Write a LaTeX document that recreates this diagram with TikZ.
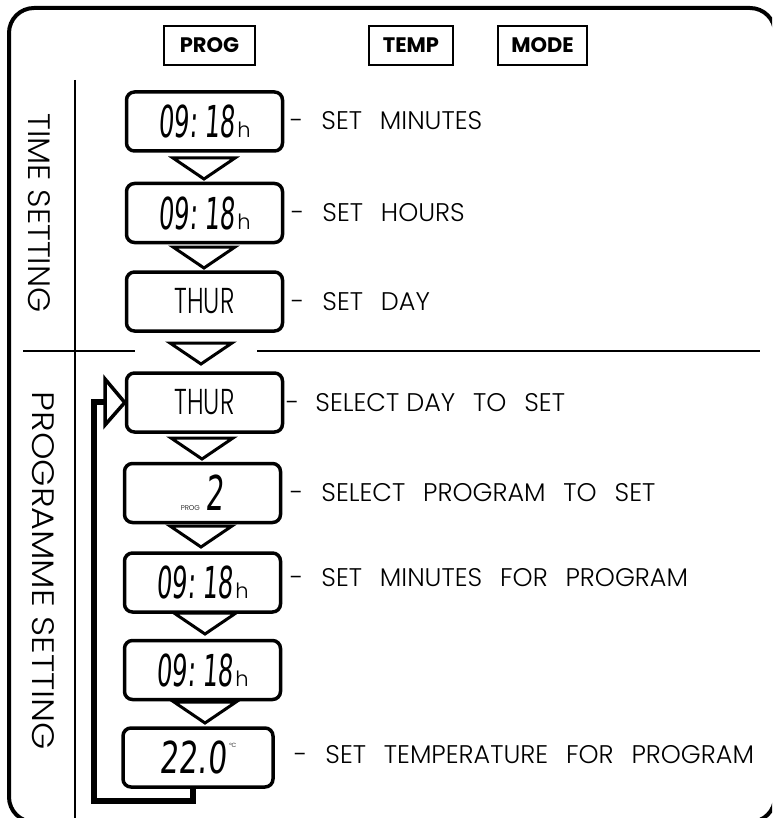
\documentclass[tikz,border=0pt]{standalone}
\usepackage{graphicx}
\usepackage{fontspec}
\setmainfont{Poppins}
\IfFontExistsTF{Poppins Light}{\newfontfamily\lightfont{Poppins Light}}{\newfontfamily\lightfont{Poppins}}
\newfontfamily\lcdfont{DejaVu Sans}[FakeSlant=0.12]
\newcommand\gap{\hspace{0.7em}}
\newcommand\lcdtime{{\lcdfont\fontsize{44}{44}\selectfont\scalebox{0.55}[1]{09:\hspace{0.3em}18}}\hspace{2pt}{\lightfont\fontsize{21}{21}\selectfont h}}
\newcommand\lcdday{{\lightfont\fontsize{36}{36}\selectfont\scalebox{0.68}[1]{THUR}}}
\newcommand\dtri[2]{\draw[tri] ({#1-31},#2) -- ({#1+31},#2) -- (#1,{#2+21}) -- cycle;}
\begin{document}
\begin{tikzpicture}[x=1pt,y=-1pt,
  btn/.style={draw,line width=2,minimum height=39,inner sep=0pt,font=\bfseries\fontsize{21}{21}\selectfont},
  lcdbox/.style={draw,line width=3.5,rounded corners=8,minimum width=156,minimum height=59,inner sep=0pt},
  tri/.style={draw,line width=3,fill=white,line join=miter},
  lbl/.style={anchor=west,inner sep=0pt,font=\lightfont\fontsize{25.5}{25.5}\selectfont},
  side/.style={rotate=-90,inner sep=0pt,font=\lightfont\fontsize{31}{31}\selectfont},
  divider/.style={line width=2.2},
  loopl/.style={line width=6}]
\useasboundingbox (0,0) rectangle (772,818);
\begin{scope}
\clip (0,0) rectangle (772,818);
\draw[line width=4,rounded corners=25] (9,8) rectangle (775,822);
\end{scope}
% buttons
\node[btn,minimum width=91] (prog) at (209.5,45.5) {PROG};
\node[btn,minimum width=84] (temp) at (411,45.5) {TEMP};
\node[btn,minimum width=89] (mode) at (542.5,45.5) {MODE};
% dividers
\coordinate (vt) at (75,80);
\coordinate (vb) at (75,818);
\draw[divider] (vt) -- (vb);
\coordinate (h1a) at (23,351);
\coordinate (h1b) at (135,351);
\coordinate (h2a) at (257,351);
\coordinate (h2b) at (760,351);
\draw[divider] (h1a) -- (h1b);
\draw[divider] (h2a) -- (h2b);
% side titles
\node[side] (ts) at (39,213) {\scalebox{1.04}[1]{TIME SETTING}};
\node[side] (ps) at (43,571) {\scalebox{1.13}[1]{PROGRAMME SETTING}};
% display boxes
\node[lcdbox] (b1) at (204.5,121.5) {\lcdtime};
\node[lcdbox] (b2) at (204.5,213) {\lcdtime};
\node[lcdbox] (b3) at (204.5,301.5) {\lcdday};
\node[lcdbox] (b4) at (204.5,402.5) {\lcdday};
\node[lcdbox] (b5) at (202.5,493) {{\lightfont\fontsize{7}{7}\selectfont PROG}\hspace{6pt}{\lcdfont\fontsize{48}{48}\selectfont\scalebox{0.6}[1]{2}}};
\node[lcdbox] (b6) at (202.5,582.5) {\lcdtime};
\node[lcdbox] (b7) at (202.5,670) {\lcdtime};
\node[lcdbox,minimum width=150] (b8) at (198,757.5) {{\lcdfont\fontsize{44}{44}\selectfont\scalebox{0.68}[1]{22.0}}\hspace{3pt}\raisebox{26pt}{\lightfont\fontsize{6}{6}\selectfont °C}};
% arrows between boxes
\dtri{204}{158}
\dtri{204}{247}
\dtri{201}{343}
\dtri{202}{438}
\dtri{201}{526}
\dtri{205}{613}
\dtri{205}{702}
% loop back
\coordinate (lb) at (94,801);
\coordinate (lt) at (94,402);
\coordinate (la) at (105,402);
\draw[loopl] ([xshift=-5pt]b8.south) |- (lb) -- (lt) -- (la);
\draw[line width=3.5,fill=white,line join=miter] (105,379) -- (b4.west) -- (105,425) -- cycle;
% labels
\node[lbl] (l1) at (290,121) {-\hspace{18pt}SET\gap MINUTES};
\node[lbl] (l2) at (291,213) {-\hspace{18pt}SET\gap HOURS};
\node[lbl] (l3) at (291,302) {-\hspace{18pt}SET\gap DAY};
\node[lbl] (l4) at (286,403) {-\hspace{16pt}SELECT DAY\gap TO\gap SET};
\node[lbl] (l5) at (290,493) {-\hspace{18pt}SELECT\gap PROGRAM\gap TO\gap SET};
\node[lbl] (l6) at (290,578) {-\hspace{18pt}SET\gap MINUTES\gap FOR\gap PROGRAM};
\node[lbl] (l8) at (294,755) {-\hspace{18pt}SET\gap TEMPERATURE\gap FOR\gap PROGRAM};
\end{tikzpicture}
\end{document}
